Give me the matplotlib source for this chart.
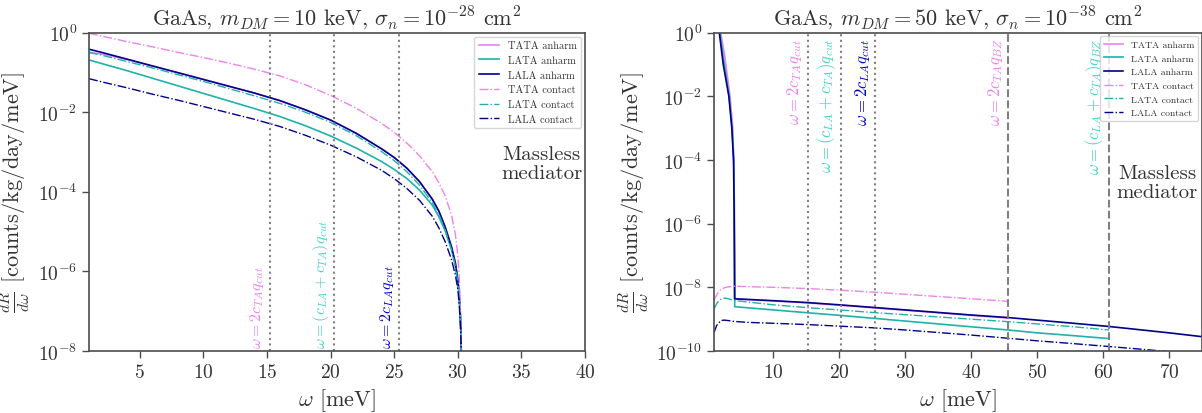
import numpy as np
import matplotlib
matplotlib.use("Agg")
import matplotlib.pyplot as plt
from matplotlib.ticker import NullLocator
import matplotlib.transforms as mtransforms

plt.rcParams["font.family"] = ["cmr10", "DejaVu Serif"]
plt.rcParams["mathtext.fontset"] = "cm"
plt.rcParams["axes.formatter.use_mathtext"] = True
plt.rcParams["axes.edgecolor"] = "0.3"
plt.rcParams["xtick.color"] = "0.3"
plt.rcParams["ytick.color"] = "0.3"
plt.rcParams["xtick.labelcolor"] = "0.2"
plt.rcParams["ytick.labelcolor"] = "0.2"
plt.rcParams["text.color"] = "0.2"
plt.rcParams["axes.labelcolor"] = "0.2"

C_TA = "violet"
C_LA = "lightseagreen"
C_LL = "darkblue"

# ---------------- left panel: m_DM = 10 keV (log10 of rate) ----------------
w_left = [1, 2, 4, 6, 8, 10, 12, 14, 16, 18, 20, 22, 24, 25, 26, 27, 28,
          28.5, 29, 29.5, 29.8, 30, 30.1, 30.2, 30.25, 30.3]
tata_anh_l = [-0.5, -0.54, -0.68, -0.85, -1.01, -1.18, -1.35, -1.52, -1.71, -1.94,
              -2.2, -2.53, -2.92, -3.14, -3.41, -3.75, -4.19, -4.48, -4.88, -5.38,
              -5.78, -6.2, -6.55, -7.1, -7.6, -8.6]
lata_anh_l = [-0.69, -0.78, -0.96, -1.15, -1.34, -1.53, -1.72, -1.91, -2.11, -2.34,
              -2.6, -2.9, -3.24, -3.44, -3.67, -3.96, -4.34, -4.62, -4.98, -5.45,
              -5.85, -6.25, -6.6, -7.15, -7.65, -8.6]
lala_anh_l = [-0.42, -0.5, -0.67, -0.84, -1.01, -1.18, -1.35, -1.52, -1.71, -1.94,
              -2.2, -2.53, -2.92, -3.14, -3.41, -3.75, -4.19, -4.48, -4.88, -5.38,
              -5.78, -6.2, -6.55, -7.1, -7.6, -8.6]
tata_con_l = [-0.02, -0.09, -0.23, -0.36, -0.5, -0.63, -0.77, -0.92, -1.09, -1.31,
              -1.58, -1.9, -2.28, -2.51, -2.78, -3.1, -3.5, -3.77, -4.1, -4.58,
              -5.05, -5.6, -6.05, -6.85, -7.5, -8.6]
lata_con_l = [-0.5, -0.57, -0.73, -0.89, -1.06, -1.23, -1.41, -1.59, -1.78, -2.0,
              -2.26, -2.59, -2.99, -3.22, -3.5, -3.84, -4.28, -4.57, -4.95, -5.45,
              -5.85, -6.25, -6.6, -7.15, -7.65, -8.6]
lala_con_l = [-1.16, -1.24, -1.39, -1.55, -1.7, -1.86, -2.02, -2.18, -2.36, -2.58,
              -2.83, -3.12, -3.46, -3.67, -3.92, -4.22, -4.62, -4.9, -5.25, -5.7,
              -6.08, -6.45, -6.8, -7.3, -7.75, -8.6]

# ---------------- right panel: m_DM = 50 keV (log10 of rate) ----------------
w_tata_anh_r = [1.5, 2, 2.6, 3.43, 3.85, 4.05, 4.1, 4.13, 10, 15.2, 25, 35, 45.6]
tata_anh_r = [0.4, 0, -0.7, -2, -3, -4.5, -6.5, -8.37, -8.43, -8.49, -8.64, -8.8, -8.97]
w_lata_anh_r = [1.42, 1.9, 2.5, 3.3, 3.75, 4.0, 4.08, 4.12, 4.14, 10, 15.2, 20, 25,
                30, 35, 40, 45.6, 50, 55, 60.9]
lata_anh_r = [0.5, 0, -0.9, -2, -3, -4, -5.5, -7.5, -8.61, -8.71, -8.8, -8.88, -8.97,
              -9.06, -9.15, -9.24, -9.34, -9.43, -9.51, -9.61]
w_lala_anh_r = [1.3, 1.8, 2.4, 3.25, 3.7, 3.96, 4.05, 4.1, 4.13, 10, 15.2, 20, 25,
                30, 35, 40, 45.6, 50, 55, 60.9, 65, 70, 75]
lala_anh_r = [0.8, 0, -1, -2, -3, -4, -5.5, -7, -8.36, -8.42, -8.48, -8.55, -8.63,
              -8.71, -8.79, -8.87, -8.95, -9.03, -9.12, -9.23, -9.32, -9.43, -9.55]
w_tata_con_r = [1.0, 1.5, 2, 2.5, 3, 4, 5, 6, 10, 15.2, 20, 25, 30, 35, 40, 45.6]
tata_con_r = [-8.4, -8.2, -8.08, -8.02, -7.99, -7.97, -7.97, -7.98, -8.0, -8.04,
              -8.09, -8.15, -8.22, -8.29, -8.36, -8.44]
w_lata_con_r = [1.0, 1.5, 2.0, 2.5, 3, 4, 6, 10, 15.2, 20, 25, 30, 35, 40, 45.6,
                50, 55, 60.9]
lata_con_r = [-8.68, -8.48, -8.38, -8.34, -8.35, -8.41, -8.46, -8.55, -8.64, -8.71,
              -8.79, -8.86, -8.93, -9.0, -9.08, -9.15, -9.23, -9.34]
w_lala_con_r = [1.0, 1.4, 2.0, 2.5, 3, 4, 6, 10, 15.2, 20, 25, 30, 35, 40, 45.6,
                50, 55, 60.9, 65, 70, 75]
lala_con_r = [-9.42, -9.2, -9.05, -9.03, -9.04, -9.07, -9.1, -9.13, -9.17, -9.22,
              -9.27, -9.34, -9.42, -9.5, -9.6, -9.68, -9.76, -9.86, -9.93, -10.02, -10.1]

# threshold lines
w_cut = [15.2, 20.3, 25.4]
w_bz = [45.6, 60.9]
cut_labels = [r"$\omega = 2c_{TA}q_{cut}$",
              r"$\omega = (c_{LA} + c_{TA})q_{cut}$",
              r"$\omega = 2c_{LA}q_{cut}$"]
bz_labels = [r"$\omega = 2c_{TA}q_{BZ}$",
             r"$\omega = (c_{LA} + c_{TA})q_{BZ}$"]
label_colors = [C_TA, "mediumturquoise", "mediumblue"]

names = ["TATA anharm", "LATA anharm", "LALA anharm",
         "TATA contact", "LATA contact", "LALA contact"]


def draw_curves(ax, xs, ys):
    cols = [C_TA, C_LA, C_LL, C_TA, C_LA, C_LL]
    for i, (x, y, c) in enumerate(zip(xs, ys, cols)):
        if i < 3:
            ax.plot(x, 10 ** np.array(y), color=c, lw=1.2, label=names[i])
        else:
            ax.plot(x, 10 ** np.array(y), color=c, lw=1.0, ls="-.", label=names[i])


def style_axes(ax, yticks):
    ax.set_yscale("log")
    ax.set_yticks(yticks)
    ax.yaxis.set_minor_locator(NullLocator())
    ax.tick_params(labelsize=14, length=5, width=1)
    for s in ax.spines.values():
        s.set_linewidth(1.2)
    ax.set_xlabel(r"$\omega$ [meV]", fontsize=16)
    ax.set_ylabel(r"$\frac{dR}{d\omega}$ [counts/kg/day/meV]", fontsize=16)


fig = plt.figure(figsize=(12.02, 4.14), dpi=100)
ax1 = fig.add_axes([89 / 1202, 62 / 414, 496 / 1202, 318.5 / 414])
ax2 = fig.add_axes([714 / 1202, 62 / 414, 488 / 1202, 318.5 / 414])

# left
draw_curves(ax1, [w_left] * 6,
            [tata_anh_l, lata_anh_l, lala_anh_l, tata_con_l, lata_con_l, lala_con_l])
trans1 = mtransforms.blended_transform_factory(ax1.transData, ax1.transAxes)
for w, lab, c in zip(w_cut, cut_labels, label_colors):
    ax1.axvline(w, color="gray", ls=":", lw=1.5)
    ax1.text(w - 0.3, 0.01, lab, rotation=90, ha="right", va="bottom",
             color=c, fontsize=11.5, transform=trans1)
ax1.set_xlim(1, 40)
ax1.set_ylim(1e-8, 1)
ax1.set_xticks([5, 10, 15, 20, 25, 30, 35, 40])
style_axes(ax1, [1e-8, 1e-6, 1e-4, 1e-2, 1])
ax1.set_title(r"GaAs, $m_{DM} = 10$ keV, $\sigma_n = 10^{-28}$ cm$^2$", fontsize=16)
ax1.legend(loc="upper right", fontsize=7.5, borderaxespad=0.4)
ax1.text(0.913, 0.589, "Massless\nmediator", transform=ax1.transAxes,
         ha="center", va="center", fontsize=15, linespacing=1.1)

# right
draw_curves(ax2, [w_tata_anh_r, w_lata_anh_r, w_lala_anh_r,
                  w_tata_con_r, w_lata_con_r, w_lala_con_r],
            [tata_anh_r, lata_anh_r, lala_anh_r, tata_con_r, lata_con_r, lala_con_r])
trans2 = mtransforms.blended_transform_factory(ax2.transData, ax2.transAxes)
for w, lab, c in zip(w_cut, cut_labels, label_colors):
    ax2.axvline(w, color="gray", ls=":", lw=1.5)
    ax2.text(w - 0.5, 0.985, lab, rotation=90, ha="right", va="top",
             color=c, fontsize=12, transform=trans2)
for w, lab, c in zip(w_bz, bz_labels, label_colors):
    ax2.axvline(w, color="gray", ls="--", lw=1.5)
    ax2.text(w - 0.5, 0.985, lab, rotation=90, ha="right", va="top",
             color=c, fontsize=12, transform=trans2)
ax2.set_xlim(1, 75)
ax2.set_ylim(1e-10, 1)
ax2.set_xticks([10, 20, 30, 40, 50, 60, 70])
style_axes(ax2, [1e-10, 1e-8, 1e-6, 1e-4, 1e-2, 1])
ax2.set_title(r"GaAs, $m_{DM} = 50$ keV, $\sigma_n = 10^{-38}$ cm$^2$", fontsize=16)
ax2.legend(loc="upper right", fontsize=7, borderaxespad=0.4)
ax2.text(0.908, 0.529, "Massless\nmediator", transform=ax2.transAxes,
         ha="center", va="center", fontsize=15, linespacing=1.1)

fig.savefig("out.png", dpi=100)
